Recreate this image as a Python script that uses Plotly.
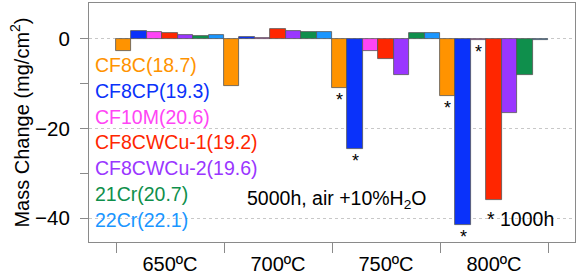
import plotly.graph_objects as go

temps = ["650ºC", "700ºC", "750ºC", "800ºC"]
alloys = ["CF8C(18.7)", "CF8CP(19.3)", "CF10M(20.6)", "CF8CWCu-1(19.2)",
          "CF8CWCu-2(19.6)", "21Cr(20.7)", "22Cr(22.1)"]
colors = ["#FF9300", "#0A32FA", "#FF45F5", "#FF2600", "#9A36FF", "#0F8F4C", "#1A96FF"]

cf8c     = [-2.8, -10.5, -11.0, -12.8]
cf8cp    = [1.8, 0.5, -24.6, -41.5]
cf10m    = [1.5, 0.2, -2.7, -0.2]
cf8cwcu1 = [1.3, 2.1, -4.5, -36.0]
cf8cwcu2 = [0.9, 1.8, -8.0, -16.5]
cr21     = [0.7, 1.6, 1.2, -8.0]
cr22     = [0.9, 1.6, 1.2, -0.3]
series = [cf8c, cf8cp, cf10m, cf8cwcu1, cf8cwcu2, cr21, cr22]

# asterisk marks (1000h data): (alloy index, temperature index)
starred = [(0, 2), (1, 2), (0, 3), (1, 3), (2, 3)]

y_ticks = [0, -20, -40]
y_minor = [-10, -30]

FONT = "Liberation Sans, Arial, Helvetica, sans-serif"
n = len(alloys)
xs = [i + 1 for i in range(len(temps))]

fig = go.Figure()
for name, vals, c in zip(alloys, series, colors):
    fig.add_trace(go.Bar(x=xs, y=vals, name=name, marker=dict(color=c, line=dict(color="#555555", width=0.8))))

annotations = []
for a, t in starred:
    xpos = xs[t] - 0.5 + (a + 0.5) / n
    annotations.append(dict(x=xpos, y=series[a][t], xref="x", yref="y", text="*", showarrow=False,
                            yanchor="top", xanchor="center", yshift=0,
                            font=dict(family=FONT, size=18, color="black")))

leg_y = [0.741, 0.632, 0.523, 0.418, 0.310, 0.201, 0.092]
for name, c, yy in zip(alloys, colors, leg_y):
    annotations.append(dict(x=0.008, y=yy, xref="paper", yref="paper", text=name, showarrow=False,
                            xanchor="left", yanchor="middle", font=dict(family=FONT, size=19.5, color=c)))

annotations.append(dict(x=0.51, y=0.176, xref="paper", yref="paper",
                        text="5000h, air +10%H<sub>2</sub>O", showarrow=False,
                        xanchor="center", yanchor="middle", font=dict(family=FONT, size=19.5, color="black")))
annotations.append(dict(x=0.815, y=0.096, xref="paper", yref="paper",
                        text="* 1000h", showarrow=False,
                        xanchor="left", yanchor="middle", font=dict(family=FONT, size=19.5, color="black")))

fig.update_layout(
    width=579, height=278,
    margin=dict(l=89, r=4, t=3, b=36),
    plot_bgcolor="white", paper_bgcolor="white",
    barmode="group", bargap=0, bargroupgap=0,
    showlegend=False,
    font=dict(family=FONT, size=19, color="black"),
    annotations=annotations,
)
fig.update_xaxes(
    automargin=False,
    range=[0.25, 4.75], tickvals=xs, ticktext=temps, ticks="", ticklabelstandoff=4,
    showgrid=False, zeroline=False, showline=True, mirror=True, linecolor="#8a8a8a", linewidth=1,
    tickfont=dict(family=FONT, size=20, color="black"),
    minor=dict(tickvals=[0.5, 1.5, 2.5, 3.5, 4.5], ticks="outside", ticklen=10, tickcolor="#8a8a8a", showgrid=False),
)
fig.update_yaxes(
    automargin=False,
    range=[-45.3, 8], tickvals=y_ticks, ticktext=["0", "−20", "−40"],
    ticks="outside", ticklen=8, tickcolor="#8a8a8a", ticklabelstandoff=6,
    showgrid=True, gridcolor="#c8c8c8", griddash="dot", gridwidth=1,
    zeroline=False, showline=True, mirror=True, linecolor="#8a8a8a", linewidth=1,
    tickfont=dict(family=FONT, size=20.5, color="black"),
    minor=dict(tickvals=y_minor, ticks="outside", ticklen=8, tickcolor="#8a8a8a", showgrid=False),
    title=dict(text="Mass Change (mg/cm<sup>2</sup>)", font=dict(family=FONT, size=20, color="black"), standoff=0),
)
fig.write_html("out.html", config={"displayModeBar": False},
               post_script="document.body.style.margin='0';")
